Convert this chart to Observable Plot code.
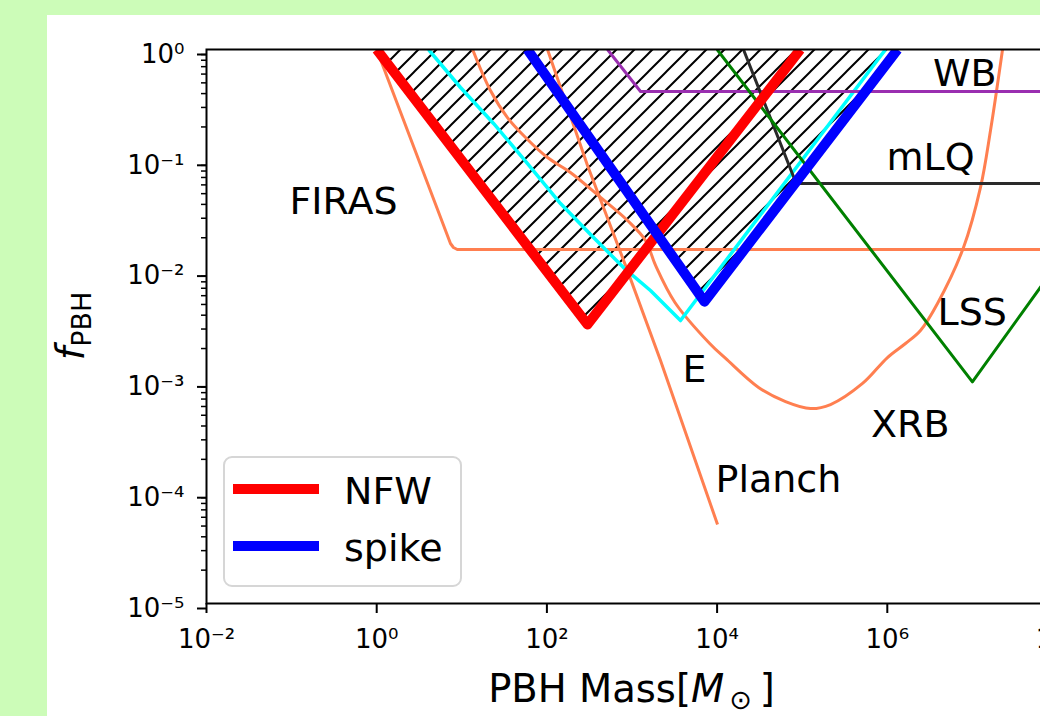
<!DOCTYPE html>
<html>
<head>
<meta charset="utf-8">
<script src="https://cdn.jsdelivr.net/npm/d3@7"></script>
<script src="https://cdn.jsdelivr.net/npm/@observablehq/plot@0.6"></script>
<style>
  html, body { margin: 0; padding: 0; width: 1040px; height: 716px; overflow: hidden; background: #ccfcb8; }
  #panel { position: absolute; left: 47px; top: 15px; right: 0; bottom: 0; background: #ffffff; }
  #chart { position: absolute; left: 0; top: 0; width: 1040px; height: 716px; overflow: hidden; }
  #chart svg { max-width: none !important; width: 1100px; height: 716px; }
  text { font-family: "DejaVu Sans", sans-serif; }
</style>
</head>
<body>
<div id="panel"></div>
<div id="chart"></div>
<script>
// ---------------- data (PBH mass in solar masses, f_PBH) ----------------
const nfwMass   = [1, 300, 9.5e4];
const nfwF      = [1, 3.3e-3, 1];

const spikeMass = [59, 7100, 1.32e6];
const spikeF    = [1, 5.3e-3, 1];

// lower envelope of the union of the NFW and spike regions (hatched)
const hatchMass = [1, 300, 1890, 7100, 1.32e6];
const hatchF    = [1, 3.3e-3, 0.0197, 5.3e-3, 1];

const cyanMass  = [4.06, 9.66, 23.6, 59.2, 144.5, 353, 795, 1648, 3715, 9.53e5];
const cyanF     = [1, 0.454, 0.215, 0.0935, 0.0407, 0.0201, 0.01076, 0.00668, 0.00358, 1];

const firasMass = [1, 7.36, 7.98, 8.85, 1e8];
const firasF    = [1, 0.01774, 0.01633, 0.01567, 0.01567];

const planckMass = [101.6, 300, 885, 2163, 10120];
const planckF    = [1, 0.0898, 0.0101, 0.00156, 5.16e-5];

const xrbMass = [13.4, 21.7, 34.4, 56.1, 101.6, 189, 427, 885, 1442, 1892, 3198, 8185, 12600,
                 30700, 63700, 125300, 215300, 511500, 1.005e6, 1.636e6, 2.455e6, 3.89e6,
                 7.86e6, 1.245e7, 1.632e7, 2.26e7];
const xrbF    = [1, 0.426, 0.243, 0.1607, 0.106, 0.0776, 0.0462, 0.0286, 0.01888, 0.01124, 0.00521,
                 0.00222, 0.001627, 0.00089, 0.000665, 0.000575, 0.000625, 0.000968, 0.00166,
                 0.00222, 0.00291, 0.0051, 0.01633, 0.0569, 0.1858, 1];

const wbMass  = [515, 1260, 1e8];
const wbF     = [1, 0.418, 0.418];

const mlqMass = [2.04e4, 8.5e4, 1e8];
const mlqF    = [1, 0.0618, 0.0618];

const lssMass = [1e4, 1e7, 1e8];
const lssF    = [1, 1e-3, 0.0117];

const labelNames = ["FIRAS", "WB", "mLQ", "LSS", "E", "XRB", "Planch"];
const labelMass  = [0.0944, 3.44e6, 9.8e5, 3.89e6, 3920, 6.43e5, 9580];
const labelF     = [0.0331, 0.473, 0.081, 0.00323, 9.9e-4, 3.16e-4, 1.01e-4];

const xTicks = [1e-2, 1e0, 1e2, 1e4, 1e6, 1e8];
const yTicks = [1e-5, 1e-4, 1e-3, 1e-2, 1e-1, 1e0];
const yMinor = d3.range(-5, 0).flatMap(k => d3.range(2, 10).map(j => j * Math.pow(10, k)));

const legendNames  = ["NFW", "spike"];
const legendColors = ["#ff0000", "#0000ff"];

// ---------------- helpers ----------------
const rows = (ms, fs) => ms.map((m, i) => ({m, f: fs[i]}));
const supMap = {"-": "\u207B", "0": "\u2070", "1": "\u00B9", "2": "\u00B2", "3": "\u00B3",
                "4": "\u2074", "5": "\u2075", "6": "\u2076", "7": "\u2077", "8": "\u2078", "9": "\u2079"};
const pow10 = v => "10" + String(Math.round(Math.log10(v))).split("").map(c => supMap[c]).join("");

const lineOpts = (stroke, strokeWidth) => ({x: "m", y: "f", stroke, strokeWidth,
  strokeLinejoin: "round", strokeLinecap: "butt", clip: true});

const plot = Plot.plot({
  width: 1100,
  height: 716,
  marginLeft: 206,
  marginRight: 43,
  marginTop: 49,
  marginBottom: 113,
  style: {fontFamily: "DejaVu Sans", fontSize: "26px", color: "#000", background: "transparent", maxWidth: "none"},
  x: {type: "log", domain: [1e-2, 1e8]},
  y: {type: "log", domain: [1e-5, 1]},
  marks: [
    Plot.areaY(rows(hatchMass, hatchF), {x: "m", y1: "f", y2: 1, fill: "url(#hatch)", clip: true}),
    Plot.line(rows(firasMass, firasF), lineOpts("#ff7f50", 3)),
    Plot.line(rows(planckMass, planckF), lineOpts("#ff7f50", 3)),
    Plot.line(rows(xrbMass, xrbF), {...lineOpts("#ff7f50", 3), curve: "catmull-rom"}),
    Plot.line(rows(cyanMass, cyanF), lineOpts("#00ffff", 3.5)),
    Plot.line(rows(wbMass, wbF), lineOpts("#9a2fb0", 3)),
    Plot.line(rows(mlqMass, mlqF), lineOpts("#2a2a2a", 3)),
    Plot.line(rows(lssMass, lssF), lineOpts("#008000", 3)),
    Plot.line(rows(nfwMass, nfwF), lineOpts("#ff0000", 10)),
    Plot.line(rows(spikeMass, spikeF), lineOpts("#0000ff", 10)),
    Plot.text(labelNames.map((t, i) => ({t, m: labelMass[i], f: labelF[i]})),
      {x: "m", y: "f", text: "t", textAnchor: "start", lineAnchor: "bottom", fontSize: 38, fill: "#000"}),
    Plot.frame({stroke: "#000", strokeWidth: 2}),
    Plot.axisX({ticks: xTicks, tickFormat: pow10, tickSize: 10, tickPadding: 16, strokeWidth: 2, label: null}),
    Plot.axisY({ticks: yTicks, tickFormat: pow10, tickSize: 9, tickPadding: 13, strokeWidth: 2, dy: 5, label: null}),
    Plot.axisY({ticks: yMinor, tickFormat: () => "", tickSize: 5, strokeWidth: 1.5, label: null})
  ]
});

plot.style.maxWidth = "none";
plot.setAttribute("width", 1100);
plot.setAttribute("height", 716);
document.getElementById("chart").appendChild(plot);

// ---------------- decorations: hatch pattern, axis titles, legend ----------------
const svg = d3.select(plot);
const defs = svg.insert("defs", ":first-child");
const pat = defs.append("pattern").attr("id", "hatch")
  .attr("patternUnits", "userSpaceOnUse").attr("width", 18).attr("height", 18);
pat.append("path").attr("d", "M0,18L18,0M-4,4L4,-4M14,22L22,14")
  .attr("stroke", "#000").attr("stroke-width", 2).attr("fill", "none");

// x label
const xl = svg.append("text").attr("x", 631.5).attr("y", 702).attr("text-anchor", "middle")
  .attr("font-size", 38.5).attr("fill", "#000");
xl.append("tspan").text("PBH Mass[");
xl.append("tspan").attr("font-style", "italic").text("M");
xl.append("tspan").attr("font-size", 27).attr("dy", 7).text("\u2009\u2299");
xl.append("tspan").attr("dy", -7).text("\u2009]");

// y label
const yl = svg.append("text").attr("transform", "translate(84,326) rotate(-90)")
  .attr("text-anchor", "middle").attr("font-size", 38.5).attr("fill", "#000");
yl.append("tspan").attr("font-style", "italic").text("f");
yl.append("tspan").attr("font-size", 27).attr("dy", 7).text("PBH");

// legend
const lg = svg.append("g");
lg.append("rect").attr("x", 224).attr("y", 457).attr("width", 237).attr("height", 129)
  .attr("rx", 8).attr("fill", "#fff").attr("fill-opacity", 0.8)
  .attr("stroke", "#d6d6d6").attr("stroke-width", 2);
legendNames.forEach((name, i) => {
  const y = 489 + i * 57;
  lg.append("line").attr("x1", 233).attr("x2", 319).attr("y1", y).attr("y2", y)
    .attr("stroke", legendColors[i]).attr("stroke-width", 10);
  lg.append("text").attr("x", 344).attr("y", y + 15).attr("text-anchor", "start")
    .attr("font-size", 38).attr("fill", "#000").text(name);
});
</script>
</body>
</html>
